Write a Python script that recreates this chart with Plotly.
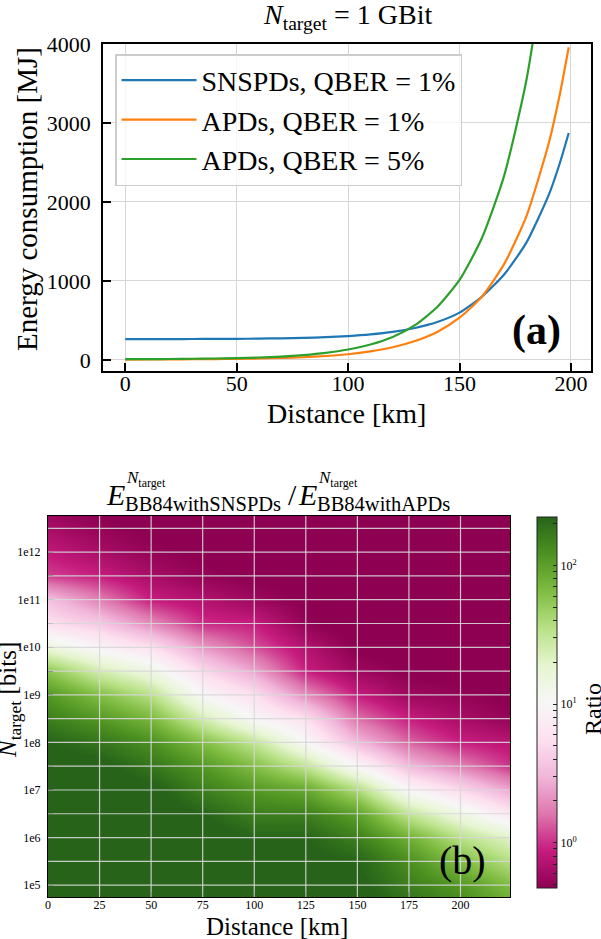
import math
import plotly.graph_objects as go

W, H = 601, 939
SERIF = "Liberation Serif"

# ---------------- panel (a): energy consumption vs distance ----------------
distance_km = [0, 10, 20, 30, 40, 50, 60, 70, 80, 90, 100, 110, 120, 130, 140,
               150, 160, 170, 180, 190, 195, 199]
energy_snspd_qber1 = [264, 264, 264, 265, 266, 267, 270, 274, 279, 288, 302, 323,
                      355, 405, 480, 599, 800, 1082, 1485, 2086, 2490, 2873]
energy_apd_qber1 = [5, 6, 7, 9, 11, 14, 18, 25, 34, 50, 72, 108, 160, 240, 355,
                    535, 800, 1213, 1819, 2740, 3360, 3958]
energy_apd_qber5 = [10, 11, 12, 15, 18, 23, 31, 43, 62, 90, 132, 195, 290, 440,
                    670, 1013, 1540, 2330, 3540, 5370, 6600, 7800]
series_names = ["SNSPDs, QBER = 1%", "APDs, QBER = 1%", "APDs, QBER = 5%"]
series_colors = ["#1f77b4", "#ff7f0e", "#2ca02c"]

top_xticks = [0, 50, 100, 150, 200]
top_yticks = [0, 1000, 2000, 3000, 4000]

# ---------------- panel (b): ratio heatmap ----------------
hm_distance_km = [0, 25, 50, 75, 100, 125, 150, 175, 200, 225]
hm_log10_ntarget = [4.5, 5.0, 5.5, 6.0, 6.5, 7.0, 7.5, 8.0, 8.5, 9.0, 9.5, 10.0,
                    10.5, 11.0, 11.5, 12.0, 12.5, 13.0]
# log10(ratio), one row per log10(N_target)
hm_log10_ratio = [
    [2.45, 2.45, 2.45, 2.45, 2.45, 2.45, 2.45, 2.30, 2.15, 1.95],   # 4.5
    [2.45, 2.45, 2.45, 2.45, 2.45, 2.45, 2.40, 2.20, 2.05, 1.80],   # 5.0
    [2.45, 2.45, 2.45, 2.45, 2.45, 2.40, 2.35, 2.10, 1.80, 1.55],   # 5.5
    [2.45, 2.45, 2.45, 2.45, 2.35, 2.35, 2.20, 1.90, 1.55, 1.30],   # 6.0
    [2.45, 2.45, 2.45, 2.35, 2.20, 2.20, 2.00, 1.50, 1.15, 0.80],   # 6.5
    [2.45, 2.45, 2.40, 2.20, 2.05, 1.95, 1.60, 1.00, 0.70, 0.40],   # 7.0
    [2.45, 2.40, 2.25, 2.05, 1.80, 1.50, 1.00, 0.50, 0.25, 0.00],   # 7.5
    [2.35, 2.25, 2.10, 1.80, 1.50, 1.00, 0.50, 0.15, -0.05, -0.12], # 8.0
    [2.20, 2.05, 1.85, 1.40, 1.00, 0.75, 0.20, -0.05, -0.20, -0.30],# 8.5
    [2.05, 1.80, 1.55, 1.00, 0.75, 0.30, -0.05, -0.25, -0.30, -0.35],# 9.0
    [1.75, 1.40, 1.15, 0.70, 0.40, -0.05, -0.25, -0.35, -0.38, -0.40],# 9.5
    [1.20, 0.95, 0.75, 0.35, 0.10, -0.15, -0.35, -0.40, -0.40, -0.40],# 10.0
    [0.75, 0.60, 0.30, 0.00, -0.05, -0.30, -0.40, -0.40, -0.40, -0.40],# 10.5
    [0.55, 0.25, -0.05, -0.15, -0.25, -0.35, -0.40, -0.40, -0.40, -0.40],# 11.0
    [0.05, -0.05, -0.20, -0.30, -0.35, -0.40, -0.40, -0.40, -0.40, -0.40],# 11.5
    [-0.08, -0.20, -0.30, -0.35, -0.40, -0.40, -0.40, -0.40, -0.40, -0.40],# 12.0
    [-0.20, -0.30, -0.35, -0.40, -0.40, -0.40, -0.40, -0.40, -0.40, -0.40],# 12.5
    [-0.30, -0.35, -0.40, -0.40, -0.40, -0.40, -0.40, -0.40, -0.40, -0.40],# 13.0
]
hm_xticks = [0, 25, 50, 75, 100, 125, 150, 175, 200]
ntarget_decades = [5, 6, 7, 8, 9, 10, 11, 12]
ntarget_labels = ["1e5", "1e6", "1e7", "1e8", "1e9", "1e10", "1e11", "1e12"]
ratio_decades = [0, 1, 2]
ratio_labels = ["10<sup>0</sup>", "10<sup>1</sup>", "10<sup>2</sup>"]
ratio_min, ratio_max = 0.47, 224.0

piyg = [
    [0.0, "#8e0152"], [0.1, "#c51b7d"], [0.2, "#de77ae"], [0.3, "#f1b6da"],
    [0.4, "#fde0ef"], [0.5, "#f7f7f7"], [0.6, "#e6f5d0"], [0.7, "#b8e186"],
    [0.8, "#7fbc41"], [0.9, "#4d9221"], [1.0, "#276419"],
]

# tick positions (half decades) for the heatmap y axis
hm_ytickvals, hm_yticktext = [], []
for dec, lab in zip(ntarget_decades, ntarget_labels):
    hm_ytickvals += [dec, dec + 0.5]
    hm_yticktext += [lab, " "]

# colorbar ticks: majors + minors (log scale)
cb_vals, cb_text = [], []
for d in range(-1, 3):
    for k in range(1, 10):
        v = k * 10 ** d
        if ratio_min <= v <= ratio_max:
            cb_vals.append(math.log10(v))
            cb_text.append(ratio_labels[ratio_decades.index(d)] if (k == 1 and d in ratio_decades) else " ")

fig = go.Figure()

for name, color, vals in zip(series_names, series_colors,
                             [energy_snspd_qber1, energy_apd_qber1, energy_apd_qber5]):
    fig.add_trace(go.Scatter(
        x=distance_km, y=vals, mode="lines", name=name,
        line=dict(color=color, width=2.2, shape="spline", smoothing=0.6),
        legendgroup=name, xaxis="x", yaxis="y",
    ))

fig.add_trace(go.Heatmap(
    x=hm_distance_km, y=hm_log10_ntarget, z=hm_log10_ratio,
    zmin=math.log10(ratio_min), zmax=math.log10(ratio_max),
    colorscale=piyg, zsmooth="best", xaxis="x2", yaxis="y2", showlegend=False,
    colorbar=dict(
        x=537 / W, xanchor="left", xpad=0, y=1 - 702.5 / H, yanchor="middle",
        len=371 / H, lenmode="fraction", thickness=20, thicknessmode="pixels", ypad=0,
        outlinewidth=1, outlinecolor="#222222",
        ticks="inside", ticklen=4, tickcolor="#222222", tickwidth=1,
        tickvals=cb_vals, ticktext=cb_text,
        tickfont=dict(family=SERIF, size=12, color="black"),
    ),
))

# grid lines drawn above the heatmap
shapes = []
for xv in hm_xticks[1:]:
    shapes.append(dict(type="line", xref="x2", yref="y2", x0=xv, x1=xv, y0=4.75, y1=12.76,
                       line=dict(color="rgba(215,215,215,0.9)", width=1.2), layer="above"))
for yv in hm_ytickvals:
    shapes.append(dict(type="line", xref="x2", yref="y2", x0=0, x1=224, y0=yv, y1=yv,
                       line=dict(color="rgba(215,215,215,0.9)", width=1.2), layer="above"))

def ann(text, x, y, size, angle=0, xanchor="center", yanchor="middle", color="black"):
    return dict(text=text, x=x / W, y=1 - y / H, xref="paper", yref="paper",
                showarrow=False, textangle=angle, xanchor=xanchor, yanchor=yanchor,
                font=dict(family=SERIF, size=size, color=color))

annotations = [
    ann("<i>N</i><sub>target</sub> = 1 GBit", 347, 16, 28),
    ann("Distance [km]", 346, 413, 28),
    ann("Energy consumption [MJ]", 27, 199, 29, angle=-90),
    ann("<b>(a)</b>", 536, 330, 42),
    # bottom title pieces
    ann("<i>E</i>", 115, 494, 30),
    ann("<i>N</i><sub>target</sub>", 124, 479, 17, xanchor="left"),
    ann("BB84withSNSPDs", 123, 504, 20.5, xanchor="left"),
    ann("/", 292, 494, 30),
    ann("<i>E</i>", 307, 494, 30),
    ann("<i>N</i><sub>target</sub>", 316, 479, 17, xanchor="left"),
    ann("BB84withAPDs", 315, 504, 20.5, xanchor="left"),
    ann("Distance [km]", 277, 926, 25),
    ann("<i>N</i><sub>target</sub> [bits]", 9, 700, 25, angle=-90),
    ann("Ratio", 593, 709, 24, angle=-90),
    ann("(b)", 462, 860, 40),
]

axis_common = dict(showline=True, mirror=True, linecolor="black", zeroline=False,
                   ticks="inside", tickcolor="black")

fig.update_layout(
    width=W, height=H, margin=dict(l=0, r=0, t=0, b=0, pad=0, autoexpand=False),
    paper_bgcolor="white", plot_bgcolor="white",
    font=dict(family=SERIF, color="black"),
    xaxis=dict(domain=[103 / W, 591 / W], range=[-10, 209], tickvals=top_xticks,
               linewidth=1.8, ticklen=8, tickwidth=1.5, showgrid=True, gridcolor="#d6d6d6",
               gridwidth=1.2, tickfont=dict(size=22), ticklabelstandoff=-8, anchor="y",
               automargin=False, **axis_common),
    yaxis=dict(domain=[1 - 371 / H, 1 - 44 / H], range=[-140, 4000], tickvals=top_yticks,
               linewidth=1.8, ticklen=8, tickwidth=1.5, showgrid=True, gridcolor="#d6d6d6",
               gridwidth=1.2, tickfont=dict(size=22), ticklabelstandoff=6, anchor="x",
               automargin=False, **axis_common),
    xaxis2=dict(domain=[48 / W, 510 / W], range=[0, 224], tickvals=hm_xticks,
                linewidth=1.2, ticklen=5, tickwidth=1.2, showgrid=False,
                tickfont=dict(size=12), anchor="y2", layer="above traces",
                ticklabelstandoff=-4, automargin=False, **axis_common),
    yaxis2=dict(domain=[1 - 897 / H, 1 - 516 / H], range=[4.75, 12.76],
                tickvals=hm_ytickvals, ticktext=hm_yticktext,
                linewidth=1.2, ticklen=5, tickwidth=1.2, showgrid=False,
                tickfont=dict(size=12), anchor="x2", layer="above traces",
                ticklabelstandoff=4, automargin=False, **axis_common),
    legend=dict(x=115 / W, y=1 - 54 / H, xanchor="left", yanchor="top",
                bgcolor="rgba(255,255,255,0.8)", bordercolor="#cccccc", borderwidth=1.5,
                font=dict(family=SERIF, size=28, color="black"),
                tracegroupgap=0, itemwidth=75),
    shapes=shapes,
    annotations=annotations,
)

fig.write_html("out.html")
